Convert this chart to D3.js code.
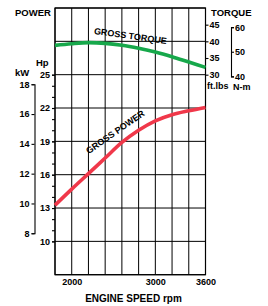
<!DOCTYPE html>
<html><head><meta charset="utf-8">
<script src="https://cdn.jsdelivr.net/npm/d3@7"></script>
<style>
html,body{margin:0;padding:0;background:#fff;}
svg{display:block;}
text{font-family:"Liberation Sans",Arial,sans-serif;font-weight:bold;fill:#000;}
</style></head>
<body>
<script>
// ---- data ----
const rpm = [1800, 2000, 2200, 2400, 2600, 2800, 3000, 3200, 3400, 3600];
const powerHp = [13.25, 14.7, 16.1, 17.5, 18.9, 20.0, 20.85, 21.4, 21.75, 22.05];
const torqueFtLb = [38.8, 39.3, 39.6, 39.4, 38.8, 37.9, 36.8, 35.4, 33.8, 32.2];
const rpmTicks = [2000, 3000, 3600];
const rpmGrid = [1800, 2000, 2200, 2400, 2600, 2800, 3000, 3200, 3400, 3600];
const hpTicks = [10, 13, 16, 19, 22, 25];
const hpGrid = [7, 10, 13, 16, 19, 22, 25, 28, 31];
const hpMinor = [10,11,12,13,14,15,16,17,18,19,20,21,22,23,24,25];
const kwTicks = [8, 10, 12, 14, 16, 18];
const torqueTicks = [30, 35, 40, 45];
const nmTicks = [40, 50, 60];
const HP_TO_KW = 0.7457, NM_TO_FTLB = 0.7376;

const W = 268, H = 306;
const L = 55, R = 205.5, T = 8, B = 274.7;

const svg = d3.select("body").append("svg").attr("width", W).attr("height", H);

const x = d3.scaleLinear().domain([1800, 3600]).range([L, R]);
const yHp = d3.scaleLinear().domain([7, 31]).range([B, T]);
const yT = d3.scaleLinear().domain([30, 50]).range([yHp(25), yHp(31)]);
const yKw = d3.scaleLinear().domain([8, 18]).range([yHp(8 / HP_TO_KW), yHp(18 / HP_TO_KW)]);
const yNm = d3.scaleLinear().domain([40, 60]).range([yT(40 * NM_TO_FTLB), yT(60 * NM_TO_FTLB)]);

// grid
const g = svg.append("g");
g.selectAll("line.v").data(rpmGrid).join("line")
  .attr("x1", d => x(d)).attr("x2", d => x(d)).attr("y1", T).attr("y2", B)
  .attr("stroke", "#000").attr("stroke-width", 1);
g.selectAll("line.h").data(hpGrid).join("line")
  .attr("x1", L).attr("x2", R).attr("y1", d => yHp(d)).attr("y2", d => yHp(d))
  .attr("stroke", "#000").attr("stroke-width", 1);
g.append("rect").attr("x", L).attr("y", T).attr("width", R - L).attr("height", B - T)
  .attr("fill", "none").attr("stroke", "#000").attr("stroke-width", 1.2);

function styleAxis(sel) {
  sel.selectAll("text").style("font-size", "9px").style("font-family", '"Liberation Sans",Arial,sans-serif').style("font-weight", "bold").attr("fill", "#000");
  sel.selectAll("line").attr("stroke", "#000").attr("stroke-width", 1.1);
  sel.selectAll("path").attr("stroke", "#000").attr("stroke-width", 1.1);
}

// Hp axis (left of plot)
svg.append("g").attr("transform", `translate(${L},0)`)
  .call(d3.axisLeft(yHp).tickValues(hpMinor).tickSize(3).tickFormat(""))
  .call(a => a.select(".domain").remove()).call(styleAxis);
svg.append("g").attr("transform", `translate(${L},0)`)
  .call(d3.axisLeft(yHp).tickValues(hpTicks).tickSize(3).tickPadding(2))
  .call(a => a.select(".domain").remove()).call(styleAxis);

// kW axis
svg.append("g").attr("transform", `translate(34.5,0)`)
  .call(d3.axisLeft(yKw).tickValues(kwTicks).tickSize(3).tickSizeOuter(3).tickPadding(2))
  .call(styleAxis);

// Torque axis (right)
svg.append("g").attr("transform", `translate(${R},0)`)
  .call(d3.axisRight(yT).tickValues(torqueTicks).tickSize(3).tickPadding(1))
  .call(a => a.select(".domain").remove()).call(styleAxis);

// N-m axis
svg.append("g").attr("transform", `translate(231,0)`)
  .call(d3.axisRight(yNm).tickValues(nmTicks).tickSize(3).tickSizeOuter(3).tickPadding(1))
  .call(styleAxis);

// x axis labels
svg.append("g").attr("transform", `translate(0,${B})`)
  .call(d3.axisBottom(x).tickValues(rpmTicks).tickSize(0).tickPadding(4).tickFormat(d3.format("d")))
  .call(a => a.select(".domain").remove()).call(styleAxis);

// curves
const line = d3.line().curve(d3.curveMonotoneX);
svg.append("path")
  .attr("d", line(rpm.map((r, i) => [x(r), yT(torqueFtLb[i])])))
  .attr("fill", "none").attr("stroke", "#17a84b").attr("stroke-width", 3.6);
svg.append("path")
  .attr("d", line(rpm.map((r, i) => [x(r), yHp(powerHp[i])])))
  .attr("fill", "none").attr("stroke", "#f0384a").attr("stroke-width", 3.6);

// titles
function label(t, xx, yy, size, anchor, rot) {
  const el = svg.append("text").attr("x", xx).attr("y", yy).style("font-size", size + "px")
    .attr("text-anchor", anchor || "start").text(t);
  if (rot) el.attr("transform", `rotate(${rot},${xx},${yy})`);
  return el;
}
label("POWER", 15, 15.5, 9.5);
label("TORQUE", 211, 15.5, 9.5);
label("Hp", 36, 66, 9.5);
label("kW", 15, 76, 9.5);
label("ft.lbs", 207, 89, 9);
label("N-m", 233, 89.5, 9);
label("ENGINE SPEED rpm", 133.5, 302, 10, "middle");
label("GROSS  TORQUE", 130, 39, 9, "middle", 8);
label("GROSS  POWER", 117, 134.5, 9, "middle", -35);
</script>
</body></html>
